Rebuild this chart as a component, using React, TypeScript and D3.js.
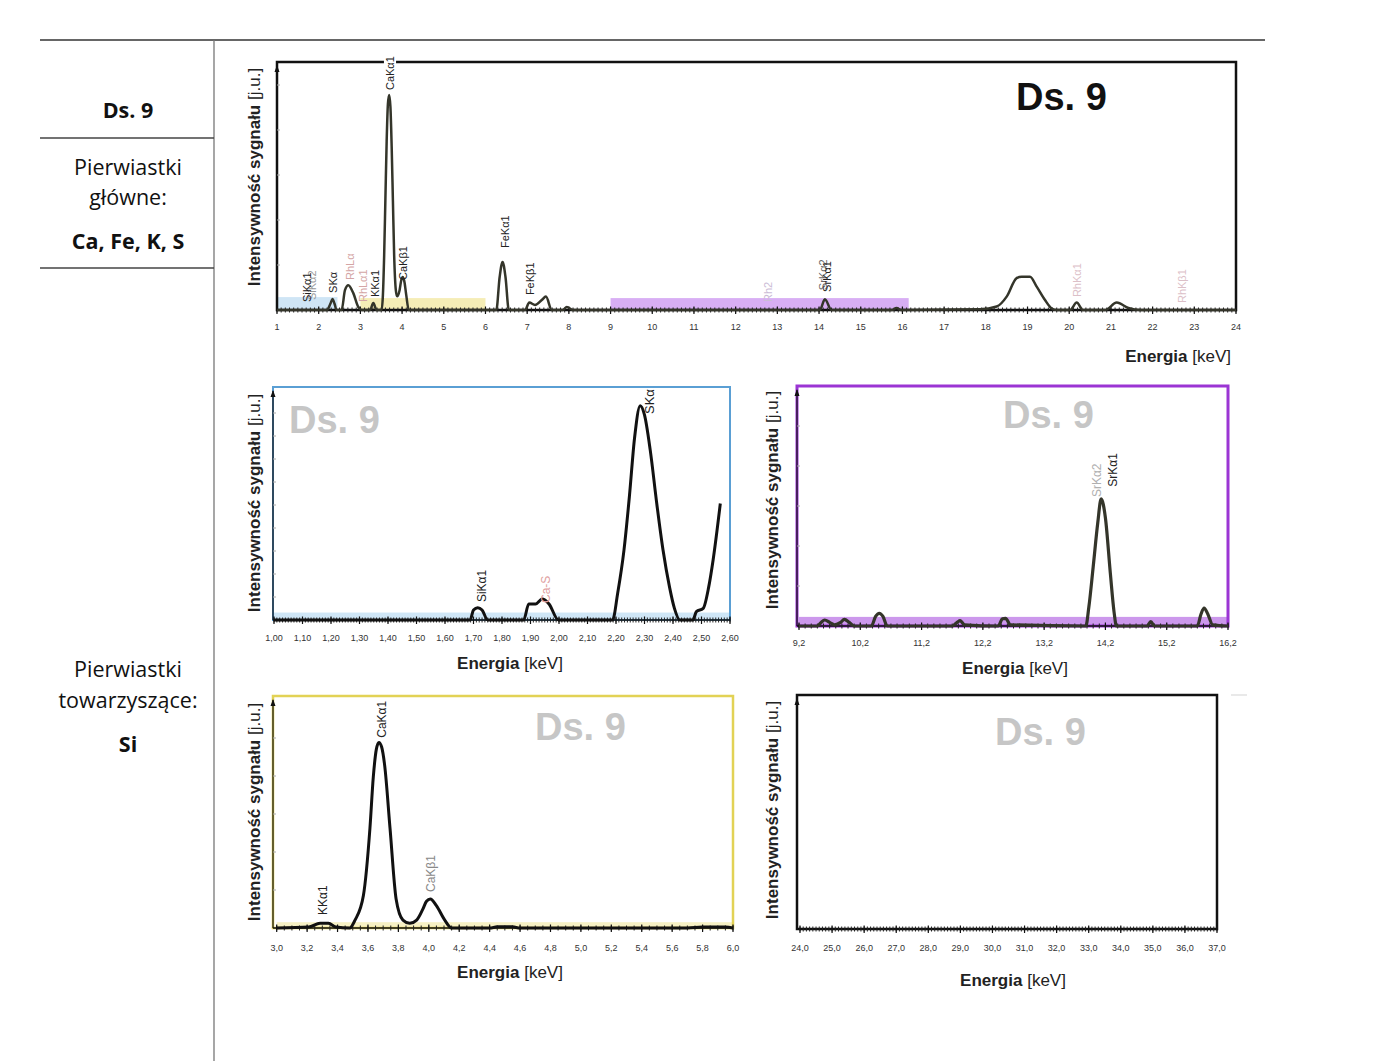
import React from 'react';
import * as d3 from 'd3';

type Pt = [number, number];

// ---------- DATA ----------
const topSpectrum: Pt[] = [
  [1.0, 0], [2.2, 0], [2.28, 2.5], [2.33, 4.4], [2.38, 2.5], [2.43, 0], [2.55, 0], [2.63, 8], [2.71, 10],
  [2.83, 6.8], [2.95, 1.2], [3.03, 0], [3.23, 0], [3.31, 2.8], [3.39, 0], [3.51, 0], [3.54, 6],
  [3.57, 22], [3.6, 45], [3.63, 68], [3.66, 83], [3.69, 86.7], [3.72, 82], [3.75, 66], [3.78, 44],
  [3.81, 22], [3.85, 8], [3.88, 5.5], [3.94, 8], [3.98, 12], [4.02, 13.3], [4.06, 11], [4.1, 6],
  [4.16, 0], [6.26, 0], [6.34, 13.3], [6.41, 19.4], [6.48, 13.3], [6.56, 0], [6.95, 0], [7.05, 3],
  [7.19, 2], [7.35, 4], [7.45, 5.4], [7.59, 0], [7.85, 0], [7.95, 1.2], [8.1, 0], [14.02, 0],
  [14.14, 4.3], [14.3, 0], [15.75, 0], [15.86, 0.8], [15.97, 0], [17.86, 0.3], [18.26, 1.4],
  [18.5, 5.4], [18.74, 12.9], [18.86, 13.4], [19.06, 13.4], [19.22, 9.4], [19.42, 4], [19.58, 0.6],
  [19.7, 0], [20.02, 0], [20.18, 3], [20.33, 0], [20.86, 0], [21.14, 3], [21.42, 0.8], [21.7, 0], [24, 0],
];

const siSpectrum: Pt[] = [
  [1.0, 0], [1.688, 0], [1.7, 4.3], [1.715, 5.3], [1.73, 4.3], [1.75, 0], [1.876, 0], [1.894, 6.9],
  [1.918, 6.9], [1.941, 9.0], [1.965, 6.9], [1.998, 0], [2.188, 0], [2.206, 11.6], [2.228, 30],
  [2.247, 53], [2.265, 78], [2.285, 92], [2.3, 88], [2.32, 73], [2.343, 50], [2.365, 30],
  [2.388, 14], [2.405, 5], [2.424, 0], [2.47, 0], [2.482, 3.6], [2.506, 5], [2.525, 14],
  [2.541, 26], [2.566, 50],
];

const srSpectrum: Pt[] = [
  [9.2, 0], [9.5, 0], [9.56, 1.5], [9.62, 2.5], [9.7, 1.5], [9.78, 0.5], [9.88, 1.5], [9.94, 2.8],
  [10.02, 1.5], [10.1, 0], [10.38, 0], [10.45, 4], [10.51, 5.3], [10.57, 4], [10.64, 0], [11.7, 0],
  [11.78, 1.5], [11.83, 2.2], [11.9, 0.5], [12.45, 0], [12.52, 3], [12.57, 3.2], [12.65, 0.5],
  [13.88, 0], [13.93, 8], [14.0, 24.6], [14.075, 43], [14.13, 53], [14.2, 45], [14.28, 22],
  [14.34, 6], [14.38, 0], [14.88, 0], [14.94, 1.8], [15.0, 0], [15.7, 0], [15.76, 5], [15.81, 7.5],
  [15.87, 5], [15.95, 0.5], [16.2, 0],
];

const caSpectrum: Pt[] = [
  [3.0, 0], [3.21, 0.4], [3.285, 2], [3.34, 2], [3.39, 0.4], [3.48, 0], [3.515, 3.4], [3.57, 14],
  [3.613, 43], [3.635, 65], [3.655, 77], [3.672, 80], [3.69, 78], [3.71, 70], [3.745, 43],
  [3.785, 12.5], [3.83, 3.4], [3.875, 2], [3.92, 3.4], [3.96, 8], [3.985, 11.5], [4.01, 12.5],
  [4.05, 9.6], [4.105, 3.4], [4.15, 0], [4.4, 0], [4.45, 0.5], [4.55, 0.5], [4.6, 0], [5.7, 0],
  [5.8, 0.4], [5.95, 0.4], [6.0, 0],
];

type Lbl = { t: string; e: number; v: number; c: string; fs?: number; bg?: boolean };

const topLabels: Lbl[] = [
  { t: 'SiKα2', e: 1.84, v: 4, c: '#9a9a9a' },
  { t: 'SiKα1', e: 1.72, v: 3.2, c: '#222' },
  { t: 'SKα', e: 2.34, v: 6.9, c: '#222' },
  { t: 'RhLα', e: 2.75, v: 12.1, c: '#d4a5a5' },
  { t: 'RhLα1', e: 3.06, v: 3.2, c: '#d4a5a5' },
  { t: 'KKα1', e: 3.35, v: 5.2, c: '#222' },
  { t: 'CaKα1', e: 3.71, v: 88.7, c: '#222', bg: true },
  { t: 'CaKβ1', e: 4.02, v: 12.1, c: '#222' },
  { t: 'FeKα1', e: 6.47, v: 25, c: '#222' },
  { t: 'FeKβ1', e: 7.07, v: 6, c: '#222' },
  { t: 'Rh2', e: 12.77, v: 3.2, c: '#cbbcd6' },
  { t: 'SrKα2', e: 14.1, v: 8, c: '#666' },
  { t: 'SrKα1', e: 14.19, v: 7.3, c: '#222' },
  { t: 'RhKα1', e: 20.18, v: 5.2, c: '#dcc0c8' },
  { t: 'RhKβ1', e: 22.7, v: 2.8, c: '#dcc0c8' },
];

const siLabels: Lbl[] = [
  { t: 'SiKα1', e: 1.73, v: 7.7, c: '#222', fs: 12 },
  { t: 'Ca-S', e: 1.954, v: 7.3, c: '#e0a0a0', fs: 12 },
  { t: 'SKα', e: 2.316, v: 88.4, c: '#222', fs: 13 },
];

const srLabels: Lbl[] = [
  { t: 'SrKα2', e: 14.06, v: 53.7, c: '#b0b0b0', fs: 12 },
  { t: 'SrKα1', e: 14.32, v: 58, c: '#222', fs: 12 },
];

const caLabels: Lbl[] = [
  { t: 'KKα1', e: 3.3, v: 5.6, c: '#222', fs: 12 },
  { t: 'CaKα1', e: 3.69, v: 82, c: '#222', fs: 12 },
  { t: 'CaKβ1', e: 4.01, v: 15.5, c: '#888', fs: 12 },
];

const topTicks = [1, 2, 3, 4, 5, 6, 7, 8, 9, 10, 11, 12, 13, 14, 15, 16, 17, 18, 19, 20, 21, 22, 23, 24];
const siTicks = [1.0, 1.1, 1.2, 1.3, 1.4, 1.5, 1.6, 1.7, 1.8, 1.9, 2.0, 2.1, 2.2, 2.3, 2.4, 2.5, 2.6];
const srTicks = [9.2, 10.2, 11.2, 12.2, 13.2, 14.2, 15.2, 16.2];
const caTicks = [3.0, 3.2, 3.4, 3.6, 3.8, 4.0, 4.2, 4.4, 4.6, 4.8, 5.0, 5.2, 5.4, 5.6, 5.8, 6.0];
const hiTicks = [24, 25, 26, 27, 28, 29, 30, 31, 32, 33, 34, 35, 36, 37];

// ---------- RENDER ----------
type Band = { d0: number; d1: number; h: number; color: string };
type Cfg = {
  domain: [number, number];
  range: [number, number];
  yTop: number;
  yBase: number;
  frameL: number;
  frameR: number;
  frameColor: string;
  frameW: number;
  data?: Pt[];
  curveColor: string;
  curveW: number;
  bands: Band[];
  labels: Lbl[];
  ticks: number[];
  dec: number;
  minor: number;
  yMinor: number;
  ds: { x: number; y: number; color: string };
  yLabel: { x: number; cy: number };
  xLabel: { x: number; y: number; anchor: string };
  tickY: number;
};

const SANS = '"Liberation Sans", Arial, sans-serif';

function fmt(v: number, dec: number) {
  return v.toFixed(dec).replace('.', ',');
}

function Panel({ c }: { c: Cfg }) {
  const x = d3.scaleLinear().domain(c.domain).range(c.range);
  const y = d3.scaleLinear().domain([0, 100]).range([c.yBase, c.yTop]);
  const line = d3.line<Pt>().x((d) => x(d[0])).y((d) => y(d[1])).curve(d3.curveMonotoneX);
  const minors = d3.range(c.domain[0], c.domain[1] + 1e-9, c.minor);
  const yMinors = d3.range(c.yBase - c.yMinor, c.yTop + 5, -c.yMinor);
  return (
    <g>
      {c.bands.map((b, i) => (
        <rect key={i} x={x(b.d0)} y={y(b.h)} width={x(b.d1) - x(b.d0)} height={y(0) - y(b.h)} fill={b.color} />
      ))}
      <rect x={c.frameL} y={c.yTop} width={c.frameR - c.frameL} height={c.yBase - c.yTop} fill="none"
        stroke={c.frameColor} strokeWidth={c.frameW} />
      {/* y axis */}
      <line x1={c.frameL} x2={c.frameL} y1={c.yBase} y2={c.yTop + 4} stroke="#111" strokeWidth={1.2} />
      <path d={`M${c.frameL - 2.5},${c.yTop + 10} L${c.frameL},${c.yTop + 3} L${c.frameL + 2.5},${c.yTop + 10} Z`} fill="#111" />
      {yMinors.map((v, i) => (
        <line key={i} x1={c.frameL} x2={c.frameL + 3} y1={v} y2={v} stroke="#aaa" strokeWidth={1} />
      ))}
      {/* x axis */}
      <line x1={c.frameL} x2={c.frameR} y1={c.yBase} y2={c.yBase} stroke="#111" strokeWidth={1.6} />
      {minors.map((v, i) => (
        <line key={i} x1={x(v)} x2={x(v)} y1={c.yBase - 2.5} y2={c.yBase + 2.5} stroke="#222" strokeWidth={1} />
      ))}
      {c.ticks.map((v, i) => (
        <g key={i}>
          <line x1={x(v)} x2={x(v)} y1={c.yBase - 3.5} y2={c.yBase + 4} stroke="#111" strokeWidth={1.2} />
          <text x={x(v)} y={c.tickY} textAnchor="middle" fontSize={9} fill="#333" fontFamily={SANS}>
            {fmt(v, c.dec)}
          </text>
        </g>
      ))}
      {c.data && (
        <path d={line(c.data) || ''} fill="none" stroke={c.curveColor} strokeWidth={c.curveW} strokeLinejoin="round" />
      )}
      {c.labels.map((l, i) => {
        const fs = l.fs || 11;
        const lx = x(l.e);
        const ly = y(l.v);
        const w = l.t.length * fs * 0.6;
        return (
          <g key={i}>
            {l.bg && <rect x={lx - fs * 0.55} y={ly - w - 1} width={fs * 1.1} height={w + 2} fill="#fff" />}
            <text transform={`translate(${lx + fs * 0.36},${ly}) rotate(-90)`} fontSize={fs} fill={l.c} fontFamily={SANS}>
              {l.t}
            </text>
          </g>
        );
      })}
      <text x={c.ds.x} y={c.ds.y} fontSize={38} fontWeight={900} fill={c.ds.color} fontFamily={SANS}>
        Ds. 9
      </text>
      <text transform={`translate(${c.yLabel.x},${c.yLabel.cy}) rotate(-90)`} textAnchor="middle" fontSize={17}
        fill="#222" fontFamily={SANS}>
        <tspan fontWeight="bold">Intensywność sygnału</tspan>
        <tspan> [j.u.]</tspan>
      </text>
      <text x={c.xLabel.x} y={c.xLabel.y} textAnchor={c.xLabel.anchor as any} fontSize={17} fill="#222" fontFamily={SANS}>
        <tspan fontWeight="bold">Energia</tspan>
        <tspan> [keV]</tspan>
      </text>
    </g>
  );
}

const topCfg: Cfg = {
  domain: [1, 24], range: [277, 1236], yTop: 62, yBase: 310, frameL: 277, frameR: 1236,
  frameColor: '#111', frameW: 2.5, data: topSpectrum, curveColor: '#34352a', curveW: 2.5,
  bands: [
    { d0: 1.0, d1: 2.45, h: 5.2, color: '#cfe5f5' },
    { d0: 3.0, d1: 6.0, h: 4.8, color: '#f5edb6' },
    { d0: 9.0, d1: 16.15, h: 4.8, color: '#d8aef4' },
  ],
  labels: topLabels, ticks: topTicks, dec: 0, minor: 0.1, yMinor: 45,
  ds: { x: 1016, y: 110, color: '#111' },
  yLabel: { x: 260, cy: 177 },
  xLabel: { x: 1231, y: 362, anchor: 'end' },
  tickY: 330,
};

const siCfg: Cfg = {
  domain: [1.0, 2.6], range: [274, 730], yTop: 387, yBase: 620, frameL: 273, frameR: 730,
  frameColor: '#5a9fd4', frameW: 2, data: siSpectrum, curveColor: '#111', curveW: 3,
  bands: [{ d0: 1.0, d1: 2.6, h: 3.2, color: '#cfe6f6' }],
  labels: siLabels, ticks: siTicks, dec: 2, minor: 0.01, yMinor: 23,
  ds: { x: 289, y: 433, color: '#c6c6c6' },
  yLabel: { x: 260, cy: 503 },
  xLabel: { x: 510, y: 669, anchor: 'middle' },
  tickY: 641,
};

const srCfg: Cfg = {
  domain: [9.2, 16.2], range: [799, 1228], yTop: 386, yBase: 626, frameL: 797, frameR: 1228,
  frameColor: '#9b35d4', frameW: 3, data: srSpectrum, curveColor: '#34352a', curveW: 3.2,
  bands: [{ d0: 9.2, d1: 16.2, h: 3.8, color: '#cc98ec' }],
  labels: srLabels, ticks: srTicks, dec: 1, minor: 0.1, yMinor: 40,
  ds: { x: 1003, y: 428, color: '#c6c6c6' },
  yLabel: { x: 778, cy: 500 },
  xLabel: { x: 1015, y: 674, anchor: 'middle' },
  tickY: 646,
};

const caCfg: Cfg = {
  domain: [3.0, 6.0], range: [276.7, 733], yTop: 696, yBase: 928, frameL: 273, frameR: 733,
  frameColor: '#e2d255', frameW: 2.5, data: caSpectrum, curveColor: '#111', curveW: 3,
  bands: [{ d0: 3.0, d1: 6.0, h: 2.5, color: '#f7f1c4' }],
  labels: caLabels, ticks: caTicks, dec: 1, minor: 0.05, yMinor: 38,
  ds: { x: 535, y: 740, color: '#c6c6c6' },
  yLabel: { x: 260, cy: 812 },
  xLabel: { x: 510, y: 978, anchor: 'middle' },
  tickY: 951,
};

const hiCfg: Cfg = {
  domain: [24, 37], range: [800, 1217], yTop: 695, yBase: 929, frameL: 797, frameR: 1217,
  frameColor: '#111', frameW: 2.5, curveColor: '#111', curveW: 3,
  bands: [], labels: [], ticks: hiTicks, dec: 1, minor: 0.1, yMinor: 1000,
  ds: { x: 995, y: 745, color: '#c6c6c6' },
  yLabel: { x: 778, cy: 810 },
  xLabel: { x: 1013, y: 986, anchor: 'middle' },
  tickY: 951,
};

const TBL = '"Open Sans", "Noto Sans", sans-serif';

export default function App() {
  return (
    <svg width={1400} height={1061} style={{ position: 'absolute', left: 0, top: 0, background: '#fff' }}>
      <rect x={0} y={0} width={1400} height={1061} fill="#fff" />
      {/* table */}
      <line x1={40} x2={1265} y1={40} y2={40} stroke="#333" strokeWidth={1.3} />
      <line x1={214} x2={214} y1={40} y2={1061} stroke="#777" strokeWidth={1.3} />
      <line x1={40} x2={214} y1={138} y2={138} stroke="#444" strokeWidth={1.3} />
      <line x1={40} x2={214} y1={268} y2={268} stroke="#444" strokeWidth={1.3} />
      <g fontFamily={TBL} fontSize={21.5} fill="#111" textAnchor="middle">
        <text x={128} y={118} fontWeight="bold">Ds. 9</text>
        <text x={128} y={175}>Pierwiastki</text>
        <text x={128} y={205}>główne:</text>
        <text x={128} y={249} fontWeight="bold">Ca, Fe, K, S</text>
        <text x={128} y={677}>Pierwiastki</text>
        <text x={128} y={708}>towarzyszące:</text>
        <text x={128} y={752} fontWeight="bold">Si</text>
      </g>
      <Panel c={topCfg} />
      <Panel c={siCfg} />
      <Panel c={srCfg} />
      <Panel c={caCfg} />
      <Panel c={hiCfg} />
      <line x1={1231} x2={1247} y1={695} y2={695} stroke="#e2e2e2" strokeWidth={1.5} />
    </svg>
  );
}
